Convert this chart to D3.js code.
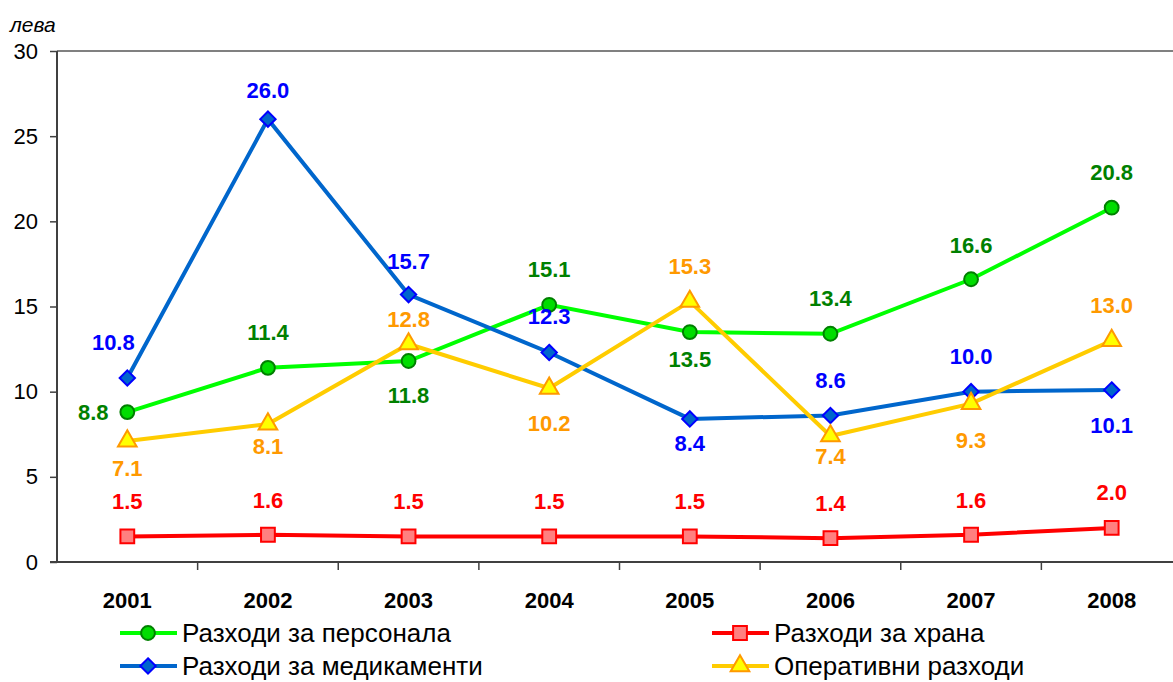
<!DOCTYPE html>
<html>
<head>
<meta charset="utf-8">
<script src="https://cdn.jsdelivr.net/npm/d3@7"></script>
<style>
  body { margin: 0; background: #fff; }
  svg { font-family: Arial, "Liberation Sans", sans-serif; }
</style>
</head>
<body>
<div class="container"></div>
<script>
var years = ["2001", "2002", "2003", "2004", "2005", "2006", "2007", "2008"];
var yTicks = [0, 5, 10, 15, 20, 25, 30];

var personnel = [8.8, 11.4, 11.8, 15.1, 13.5, 13.4, 16.6, 20.8];
var food = [1.5, 1.6, 1.5, 1.5, 1.5, 1.4, 1.6, 2.0];
var medicine = [10.8, 26.0, 15.7, 12.3, 8.4, 8.6, 10.0, 10.1];
var operating = [7.1, 8.1, 12.8, 10.2, 15.3, 7.4, 9.3, 13.0];

var seriesNames = ["Разходи за персонала", "Разходи за храна", "Разходи за медикаменти", "Оперативни разходи"];

// label offsets (dx, dy) relative to the point
var offPersonnel = [[-34, 0], [0, -36], [0, 34], [0, -36], [0, 27], [0, -36], [0, -34], [0, -36]];
var offFood = [[0, -35], [0, -35], [0, -35], [0, -35], [0, -35], [0, -35], [0, -35], [0, -36]];
var offMedicine = [[-14, -36], [0, -29], [0, -33], [0, -36], [0, 24], [0, -35], [0, -36], [0, 35]];
var offOperating = [[0, 27], [0, 22], [0, -25], [0, 35], [0, -35], [0, 20], [0, 36], [0, -35]];

var width = 1173, height = 682;
var plotLeft = 57, plotTop = 51, plotBottom = 562, plotRight = 1182;

var svg = d3.select(".container")
  .append("svg")
    .attr("width", width)
    .attr("height", height);

var x = d3.scaleBand()
  .domain(years)
  .range([plotLeft, plotRight])
  .padding(0);

var y = d3.scaleLinear()
  .domain([0, 30])
  .range([plotBottom, plotTop]);

function cx(d, i) { return x(years[i]) + x.bandwidth() / 2; }

// top frame line
svg.append("line")
  .attr("x1", plotLeft).attr("x2", width)
  .attr("y1", plotTop).attr("y2", plotTop)
  .attr("stroke", "#808080")
  .attr("stroke-width", 2);

// y axis
var yAxis = svg.append("g")
  .attr("transform", "translate(" + plotLeft + ",0)")
  .call(d3.axisLeft(y).tickValues(yTicks).tickSize(7).tickPadding(12));
yAxis.select(".domain").attr("stroke", "#404040").attr("stroke-width", 2).attr("d", "M0," + plotTop + "V" + plotBottom);
yAxis.selectAll(".tick line").attr("stroke", "#404040").attr("stroke-width", 1.5);
yAxis.selectAll(".tick text").attr("font-size", 22).attr("fill", "#000").attr("font-family", "Arial, 'Liberation Sans', sans-serif");

// x axis
svg.append("line")
  .attr("x1", plotLeft - 7).attr("x2", width)
  .attr("y1", plotBottom).attr("y2", plotBottom)
  .attr("stroke", "#404040")
  .attr("stroke-width", 2);

svg.selectAll(".xtick")
  .data(years.slice(1))
  .enter().append("line")
  .attr("class", "xtick")
  .attr("x1", d => x(d)).attr("x2", d => x(d))
  .attr("y1", plotBottom).attr("y2", plotBottom + 8)
  .attr("stroke", "#404040")
  .attr("stroke-width", 1.5);

svg.selectAll(".xlabel")
  .data(years)
  .enter().append("text")
  .attr("class", "xlabel")
  .attr("x", d => x(d) + x.bandwidth() / 2)
  .attr("y", 608)
  .attr("text-anchor", "middle")
  .attr("font-size", 22)
  .attr("font-weight", "bold")
  .text(d => d);

svg.append("text")
  .attr("x", 10)
  .attr("y", 32)
  .attr("font-size", 21)
  .attr("font-style", "italic")
  .text("лева");

var line = d3.line()
  .x(cx)
  .y(d => y(d));

var symCircle = d3.symbol().type(d3.symbolCircle).size(150);
var symSquare = d3.symbol().type(d3.symbolSquare).size(190);
var symDiamond = d3.symbol().type(d3.symbolDiamond2).size(150);
var symTriangle = d3.symbol().type(d3.symbolTriangle).size(150);

var series = [
  { name: seriesNames[0], values: personnel, offs: offPersonnel, line: "#00ff00", fill: "#00dd00", stroke: "#008000", label: "#008000", sym: symCircle },
  { name: seriesNames[1], values: food, offs: offFood, line: "#ff0000", fill: "#ff8080", stroke: "#ff0000", label: "#ff0000", sym: symSquare },
  { name: seriesNames[2], values: medicine, offs: offMedicine, line: "#0066cc", fill: "#0066cc", stroke: "#0000ff", label: "#0000ff", sym: symDiamond },
  { name: seriesNames[3], values: operating, offs: offOperating, line: "#ffcc00", fill: "#ffff00", stroke: "#ff9900", label: "#ff9900", sym: symTriangle }
];

series.forEach(function(s) {
  svg.append("path")
    .datum(s.values)
    .attr("fill", "none")
    .attr("stroke", s.line)
    .attr("stroke-width", 4)
    .attr("d", line);

  svg.selectAll(null)
    .data(s.values)
    .enter().append("path")
    .attr("d", s.sym)
    .attr("transform", (d, i) => "translate(" + cx(d, i) + "," + y(d) + ")")
    .attr("fill", s.fill)
    .attr("stroke", s.stroke)
    .attr("stroke-width", 2);
});

series.forEach(function(s) {
  svg.selectAll(null)
    .data(s.values)
    .enter().append("text")
    .attr("x", (d, i) => cx(d, i) + s.offs[i][0])
    .attr("y", (d, i) => y(d) + s.offs[i][1])
    .attr("dy", "0.36em")
    .attr("text-anchor", "middle")
    .attr("font-size", 22)
    .attr("font-weight", "bold")
    .attr("fill", s.label)
    .text(d => d.toFixed(1));
});

// legend
var legendPos = [[120, 633], [712, 633], [120, 666], [712, 666]];
series.forEach(function(s, i) {
  var p = legendPos[i];
  var g = svg.append("g").attr("transform", "translate(" + p[0] + "," + p[1] + ")");
  g.append("line")
    .attr("x1", 0).attr("x2", 57)
    .attr("y1", 0).attr("y2", 0)
    .attr("stroke", s.line)
    .attr("stroke-width", 4);
  g.append("path")
    .attr("d", s.sym)
    .attr("transform", "translate(28,0)")
    .attr("fill", s.fill)
    .attr("stroke", s.stroke)
    .attr("stroke-width", 2);
  g.append("text")
    .attr("x", 62)
    .attr("y", 0)
    .attr("dy", "0.36em")
    .attr("font-size", 26)
    .text(s.name);
});
</script>
</body>
</html>
